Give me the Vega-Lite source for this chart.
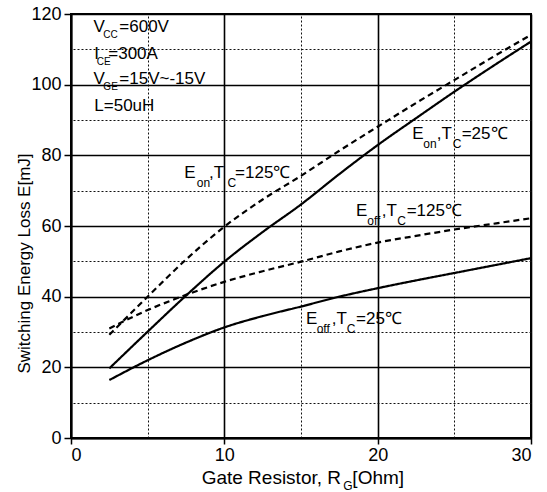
{
  "$schema": "https://vega.github.io/schema/vega-lite/v6.json",
  "width": 460,
  "height": 424,
  "autosize": "none",
  "padding": {"left": 71, "top": 14, "right": 16, "bottom": 54},
  "background": "white",
  "config": {
    "view": {"stroke": "black", "strokeWidth": 2},
    "font": "Liberation Sans"
  },
  "datasets": {
    "curves": [
      {"series": "Eon25", "tc": "25", "r": 2.5, "e": 19.7},
      {"series": "Eon25", "tc": "25", "r": 5, "e": 30.1},
      {"series": "Eon25", "tc": "25", "r": 7.5, "e": 40.3},
      {"series": "Eon25", "tc": "25", "r": 10, "e": 49.9},
      {"series": "Eon25", "tc": "25", "r": 12.5, "e": 58.3},
      {"series": "Eon25", "tc": "25", "r": 15, "e": 66.1},
      {"series": "Eon25", "tc": "25", "r": 17.5, "e": 74.7},
      {"series": "Eon25", "tc": "25", "r": 20, "e": 82.9},
      {"series": "Eon25", "tc": "25", "r": 22.5, "e": 90.5},
      {"series": "Eon25", "tc": "25", "r": 25, "e": 98.0},
      {"series": "Eon25", "tc": "25", "r": 27.5, "e": 105.2},
      {"series": "Eon25", "tc": "25", "r": 30, "e": 112.2},
      {"series": "Eon125", "tc": "125", "r": 2.5, "e": 29.2},
      {"series": "Eon125", "tc": "125", "r": 5, "e": 40.0},
      {"series": "Eon125", "tc": "125", "r": 7.5, "e": 50.5},
      {"series": "Eon125", "tc": "125", "r": 10, "e": 59.8},
      {"series": "Eon125", "tc": "125", "r": 12.5, "e": 67.5},
      {"series": "Eon125", "tc": "125", "r": 15, "e": 74.2},
      {"series": "Eon125", "tc": "125", "r": 17.5, "e": 81.3},
      {"series": "Eon125", "tc": "125", "r": 20, "e": 88.1},
      {"series": "Eon125", "tc": "125", "r": 22.5, "e": 94.8},
      {"series": "Eon125", "tc": "125", "r": 25, "e": 101.3},
      {"series": "Eon125", "tc": "125", "r": 27.5, "e": 107.8},
      {"series": "Eon125", "tc": "125", "r": 30, "e": 114.1},
      {"series": "Eoff125", "tc": "125", "r": 2.5, "e": 31.0},
      {"series": "Eoff125", "tc": "125", "r": 5, "e": 36.2},
      {"series": "Eoff125", "tc": "125", "r": 7.5, "e": 40.5},
      {"series": "Eoff125", "tc": "125", "r": 10, "e": 44.2},
      {"series": "Eoff125", "tc": "125", "r": 12.5, "e": 47.2},
      {"series": "Eoff125", "tc": "125", "r": 15, "e": 49.9},
      {"series": "Eoff125", "tc": "125", "r": 17.5, "e": 52.8},
      {"series": "Eoff125", "tc": "125", "r": 20, "e": 55.3},
      {"series": "Eoff125", "tc": "125", "r": 22.5, "e": 57.2},
      {"series": "Eoff125", "tc": "125", "r": 25, "e": 59.0},
      {"series": "Eoff125", "tc": "125", "r": 27.5, "e": 60.6},
      {"series": "Eoff125", "tc": "125", "r": 30, "e": 62.2},
      {"series": "Eoff25", "tc": "25", "r": 2.5, "e": 16.4},
      {"series": "Eoff25", "tc": "25", "r": 5, "e": 22.0},
      {"series": "Eoff25", "tc": "25", "r": 7.5, "e": 27.0},
      {"series": "Eoff25", "tc": "25", "r": 10, "e": 31.3},
      {"series": "Eoff25", "tc": "25", "r": 12.5, "e": 34.5},
      {"series": "Eoff25", "tc": "25", "r": 15, "e": 37.2},
      {"series": "Eoff25", "tc": "25", "r": 17.5, "e": 40.0},
      {"series": "Eoff25", "tc": "25", "r": 20, "e": 42.4},
      {"series": "Eoff25", "tc": "25", "r": 22.5, "e": 44.6},
      {"series": "Eoff25", "tc": "25", "r": 25, "e": 46.7},
      {"series": "Eoff25", "tc": "25", "r": 27.5, "e": 48.8},
      {"series": "Eoff25", "tc": "25", "r": 30, "e": 50.9}
    ],
    "notes": [
      {"group": "note", "kind": "main", "r": 1.46, "e": 116.2, "text": "V"},
      {"group": "note", "kind": "sub", "r": 2.11, "e": 116.2, "text": "CC"},
      {"group": "note", "kind": "main", "r": 3.15, "e": 116.2, "text": "=600V"},
      {"group": "note", "kind": "main", "r": 1.52, "e": 108.8, "text": "I"},
      {"group": "note", "kind": "sub", "r": 1.68, "e": 108.8, "text": "CE"},
      {"group": "note", "kind": "main", "r": 2.43, "e": 108.8, "text": "=300A"},
      {"group": "note", "kind": "main", "r": 1.46, "e": 101.5, "text": "V"},
      {"group": "note", "kind": "sub", "r": 2.11, "e": 101.5, "text": "GE"},
      {"group": "note", "kind": "main", "r": 3.15, "e": 101.5, "text": "=15V~-15V"},
      {"group": "note", "kind": "main", "r": 1.52, "e": 94.1, "text": "L=50uH"},
      {"group": "curve", "kind": "main", "r": 7.39, "e": 75.0, "text": "E"},
      {"group": "curve", "kind": "sub", "r": 8.2, "e": 75.0, "text": "on"},
      {"group": "curve", "kind": "main", "r": 9.0, "e": 75.0, "text": ",T"},
      {"group": "curve", "kind": "sub", "r": 10.2, "e": 75.0, "text": "C"},
      {"group": "curve", "kind": "main", "r": 10.7, "e": 75.0, "text": "=125℃"},
      {"group": "curve", "kind": "main", "r": 22.26, "e": 85.9, "text": "E"},
      {"group": "curve", "kind": "sub", "r": 22.98, "e": 85.9, "text": "on"},
      {"group": "curve", "kind": "main", "r": 23.85, "e": 85.9, "text": ",T"},
      {"group": "curve", "kind": "sub", "r": 24.89, "e": 85.9, "text": "C"},
      {"group": "curve", "kind": "main", "r": 25.48, "e": 85.9, "text": "=25℃"},
      {"group": "curve", "kind": "main", "r": 18.59, "e": 64.3, "text": "E"},
      {"group": "curve", "kind": "sub", "r": 19.32, "e": 64.3, "text": "off"},
      {"group": "curve", "kind": "main", "r": 20.26, "e": 64.3, "text": ",T"},
      {"group": "curve", "kind": "sub", "r": 21.28, "e": 64.3, "text": "C"},
      {"group": "curve", "kind": "main", "r": 21.89, "e": 64.3, "text": "=125℃"},
      {"group": "curve", "kind": "main", "r": 15.33, "e": 33.7, "text": "E"},
      {"group": "curve", "kind": "sub", "r": 16.02, "e": 33.7, "text": "off"},
      {"group": "curve", "kind": "main", "r": 17.0, "e": 33.7, "text": ",T"},
      {"group": "curve", "kind": "sub", "r": 17.98, "e": 33.7, "text": "C"},
      {"group": "curve", "kind": "main", "r": 18.59, "e": 33.7, "text": "=25℃"},
      {"group": "title", "kind": "main", "r": 8.52, "e": -11.3, "text": "Gate Resistor, R"},
      {"group": "title", "kind": "sub", "r": 17.75, "e": -11.3, "text": "G"},
      {"group": "title", "kind": "main", "r": 18.35, "e": -11.3, "text": "[Ohm]"}
    ]
  },
  "resolve": {"axis": {"x": "independent", "y": "independent"}},
  "layer": [
    {
      "data": {"name": "curves"},
      "mark": {"type": "line", "interpolate": "monotone", "color": "black", "strokeWidth": 2.2},
      "encoding": {
        "x": {
          "field": "r", "type": "quantitative",
          "scale": {"domain": [0, 30], "nice": false},
          "axis": {
            "orient": "bottom",
            "title": null,
            "values": [0, 10, 20, 30],
            "labelFontSize": 18, "labelColor": "black", "labelPadding": 2, "labelFont": "Liberation Sans",
            "domainColor": "black", "domainWidth": 2,
            "tickColor": "black", "tickWidth": 1.5, "tickSize": 6,
            "grid": true, "gridColor": "#000", "gridWidth": 1.6, "gridOpacity": 1
          }
        },
        "y": {
          "field": "e", "type": "quantitative",
          "scale": {"domain": [0, 120], "nice": false},
          "axis": {
            "orient": "left",
            "title": "Switching Energy Loss E[mJ]",
            "titleFontSize": 17, "titleFontWeight": "normal", "titleColor": "black", "titleFont": "Liberation Sans",
            "titleY": 249, "titleX": -47, "titleBaseline": "middle", "titleAngle": -90,
            "values": [0, 20, 40, 60, 80, 100, 120],
            "labelFontSize": 18, "labelColor": "black", "labelPadding": 3, "labelFont": "Liberation Sans",
            "domainColor": "black", "domainWidth": 2,
            "tickColor": "black", "tickWidth": 1.5, "tickSize": 7,
            "grid": true, "gridColor": "#000", "gridWidth": 1.6, "gridOpacity": 1
          }
        },
        "detail": {"field": "series"},
        "strokeDash": {
          "field": "tc", "type": "nominal",
          "scale": {"domain": ["25", "125"], "range": [[1, 0], [6, 4]]},
          "legend": null
        }
      }
    },
    {
      "data": {"name": "notes"},
      "transform": [{"filter": "datum.kind === 'main' && datum.group !== 'title'"}],
      "mark": {"type": "text", "align": "left", "baseline": "middle", "fontSize": 17, "color": "black", "font": "Liberation Sans"},
      "encoding": {
        "x": {
          "field": "r", "type": "quantitative",
          "axis": {
            "orient": "top", "title": null, "values": [5, 15, 25],
            "labels": false, "ticks": false, "domain": false,
            "grid": true, "gridColor": "#111", "gridWidth": 1, "gridOpacity": 1, "gridDash": [2, 2]
          }
        },
        "y": {
          "field": "e", "type": "quantitative",
          "axis": {
            "orient": "right", "title": null, "values": [10, 30, 50, 70, 90, 110],
            "labels": false, "ticks": false, "domain": false,
            "grid": true, "gridColor": "#111", "gridWidth": 1, "gridOpacity": 1, "gridDash": [2, 2]
          }
        },
        "text": {"field": "text"}
      }
    },
    {
      "data": {"name": "notes"},
      "transform": [{"filter": "datum.kind === 'sub' && datum.group === 'note'"}],
      "mark": {"type": "text", "align": "left", "baseline": "middle", "fontSize": 10, "dy": 8, "color": "black", "font": "Liberation Sans"},
      "encoding": {
        "x": {"field": "r", "type": "quantitative", "axis": null},
        "y": {"field": "e", "type": "quantitative", "axis": null},
        "text": {"field": "text"}
      }
    },
    {
      "data": {"name": "notes"},
      "transform": [{"filter": "datum.kind === 'sub' && datum.group === 'curve'"}],
      "mark": {"type": "text", "align": "left", "baseline": "middle", "fontSize": 12, "dy": 10, "color": "black", "font": "Liberation Sans"},
      "encoding": {
        "x": {"field": "r", "type": "quantitative", "axis": null},
        "y": {"field": "e", "type": "quantitative", "axis": null},
        "text": {"field": "text"}
      }
    },
    {
      "data": {"name": "notes"},
      "transform": [{"filter": "datum.kind === 'main' && datum.group === 'title'"}],
      "mark": {"type": "text", "align": "left", "baseline": "middle", "fontSize": 19, "color": "black", "font": "Liberation Sans", "clip": false},
      "encoding": {
        "x": {"field": "r", "type": "quantitative", "axis": null},
        "y": {"field": "e", "type": "quantitative", "axis": null},
        "text": {"field": "text"}
      }
    },
    {
      "data": {"name": "notes"},
      "transform": [{"filter": "datum.kind === 'sub' && datum.group === 'title'"}],
      "mark": {"type": "text", "align": "left", "baseline": "middle", "fontSize": 12, "dy": 8, "color": "black", "font": "Liberation Sans", "clip": false},
      "encoding": {
        "x": {"field": "r", "type": "quantitative", "axis": null},
        "y": {"field": "e", "type": "quantitative", "axis": null},
        "text": {"field": "text"}
      }
    }
  ]
}
